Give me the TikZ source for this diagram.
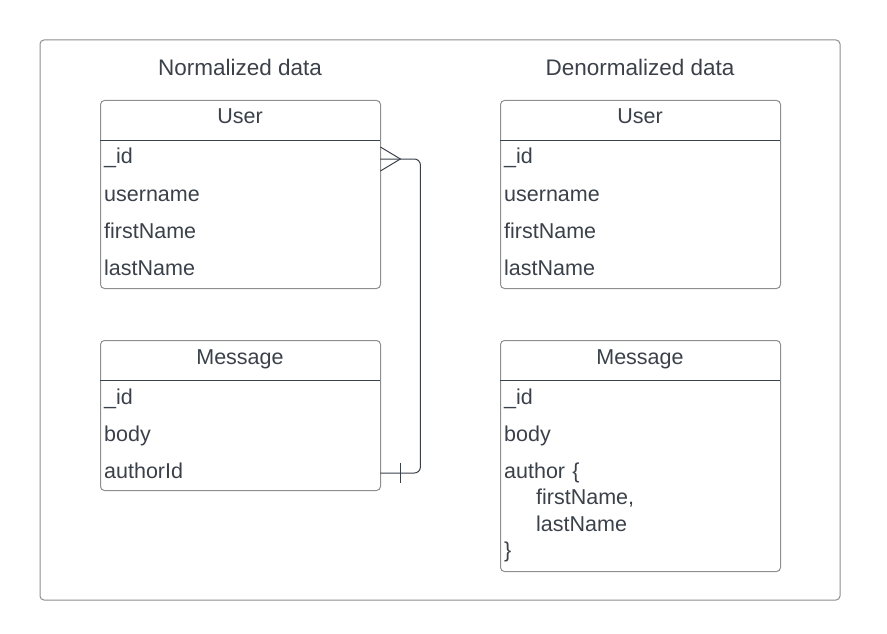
\documentclass[tikz,border=0pt]{standalone}
\usepackage{fontspec}
\setmainfont{Liberation Sans}
\definecolor{framegray}{HTML}{8E8E8E}
\definecolor{inkgray}{HTML}{3A414A}
\begin{document}
\begin{tikzpicture}[x=1pt,y=-1pt,
    tablebox/.style={draw=framegray, line width=1pt, rounded corners=4pt,
      minimum width=280pt, anchor=north west, inner sep=0pt},
    title/.style={font=\fontsize{22.5}{26}\selectfont, text=inkgray, anchor=base},
    header/.style={font=\fontsize{21.5}{25}\selectfont, text=inkgray, anchor=base},
    field/.style={anchor=base west, text width=272pt, inner xsep=4pt, inner ysep=0pt,
      text height=15pt, text depth=5pt, align=left,
      font=\fontsize{21.5}{26.5}\selectfont, text=inkgray},
    link/.style={draw=inkgray, line width=1pt}
  ]
  \useasboundingbox (0,0) rectangle (887,634);
  % outer frame
  \draw[framegray, line width=1pt, rounded corners=4pt] (40,40) rectangle (840,600);

  % Normalized data
  \node[title] (ntitle) at (240,76) {Normalized data};
  \node[tablebox, minimum height=188pt] (nuser) at (100,100) {};
  \draw[inkgray, line width=1pt] (100,140) -- (380,140);
  \node[header] (nuserh) at (240,124) {User};
  \node[field] (nuid) at (100,164) {\_id};
  \node[field] (nuname) at (100,201) {username};
  \node[field] (nufirst) at (100,238) {firstName};
  \node[field] (nulast) at (100,275) {lastName};

  \node[tablebox, minimum height=150pt] (nmsg) at (100,340) {};
  \draw[inkgray, line width=1pt] (100,380) -- (380,380);
  \node[header] (nmsgh) at (240,364) {Message};
  \node[field] (nmid) at (100,404) {\_id};
  \node[field] (nmbody) at (100,441) {body};
  \node[field] (nmauth) at (100,478) {authorId};

  % one-to-many link
  \draw[link, rounded corners=6pt] (nuid.east) -- ++(40,0) |- (nmauth.east);
  \draw[link] (nuid.east) ++(0,-12) -- ++(20,12) -- ++(-20,12);
  \draw[link] (nmauth.east) ++(20,-10) -- ++(0,20);

  % Denormalized data
  \node[title] (dtitle) at (640,76) {Denormalized data};
  \node[tablebox, minimum height=188pt] (duser) at (500,100) {};
  \draw[inkgray, line width=1pt] (500,140) -- (780,140);
  \node[header] (duserh) at (640,124) {User};
  \node[field] (duid) at (500,164) {\_id};
  \node[field] (duname) at (500,201) {username};
  \node[field] (dufirst) at (500,238) {firstName};
  \node[field] (dulast) at (500,275) {lastName};

  \node[tablebox, minimum height=231pt] (dmsg) at (500,340) {};
  \draw[inkgray, line width=1pt] (500,380) -- (780,380);
  \node[header] (dmsgh) at (640,364) {Message};
  \node[field] (dmid) at (500,404) {\_id};
  \node[field] (dmbody) at (500,441) {body};
  \node[field] (dmauth) at (500,478) {author \{\\
    \hspace*{32pt}firstName,\\
    \hspace*{32pt}lastName\\
    \}};
\end{tikzpicture}
\end{document}
